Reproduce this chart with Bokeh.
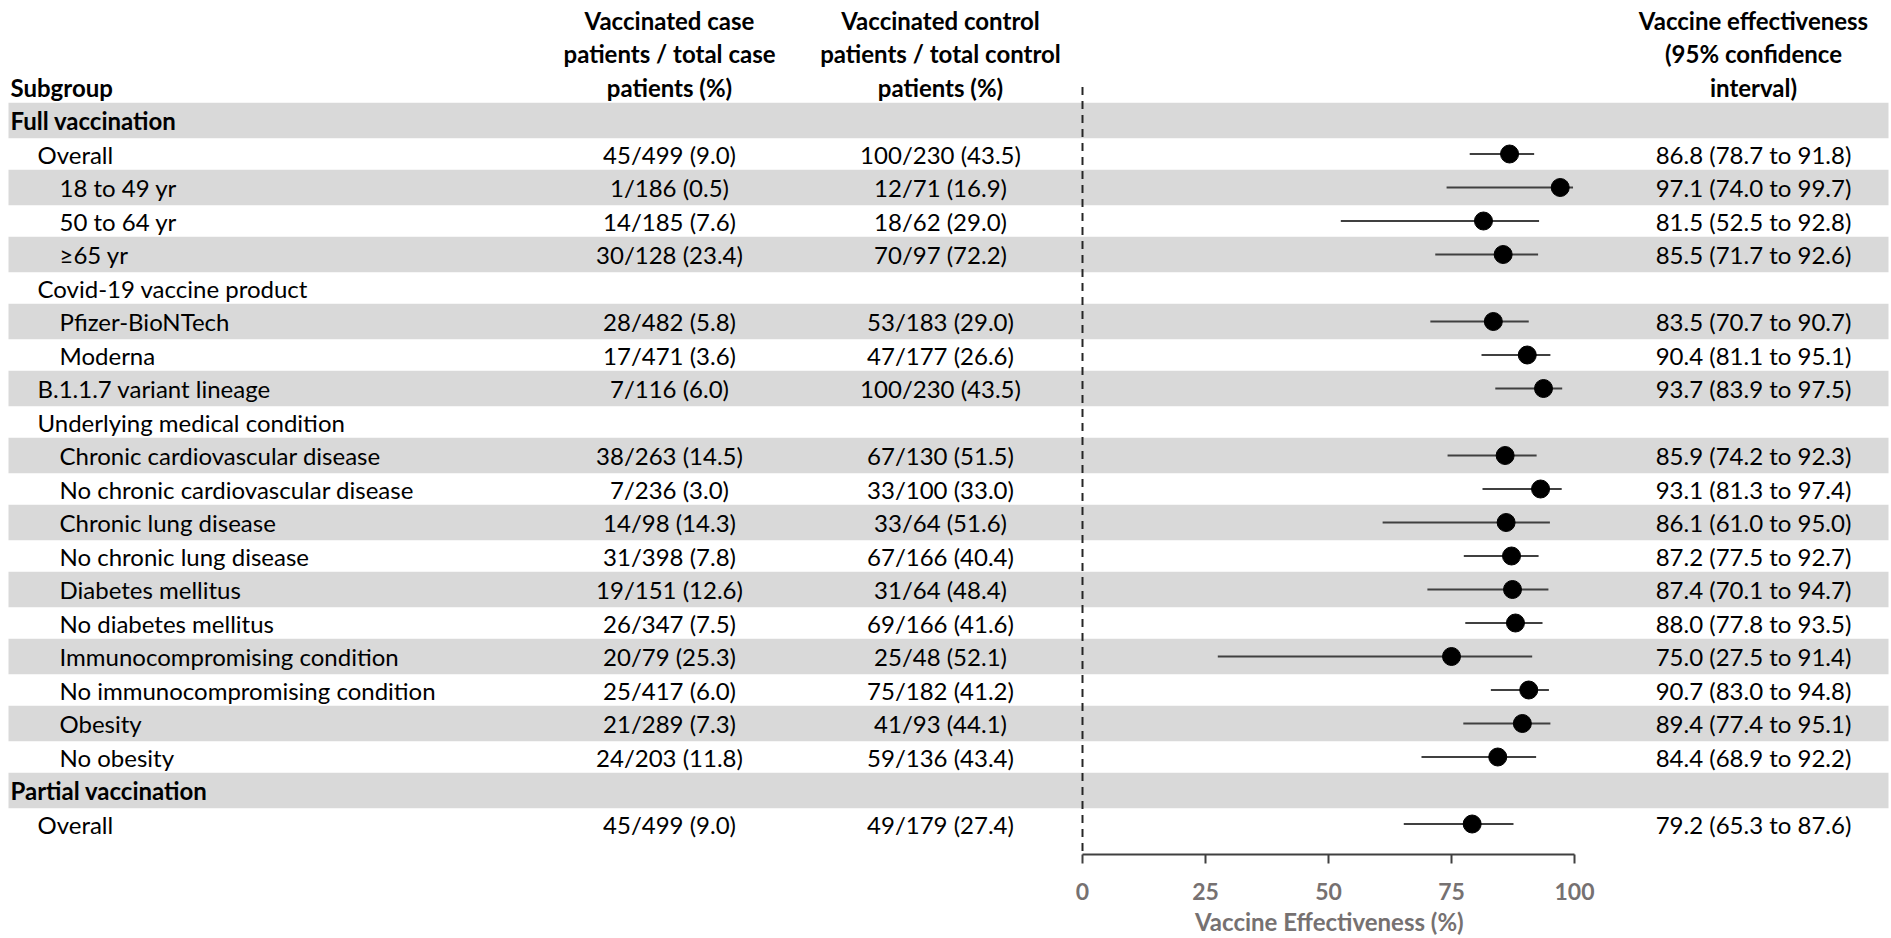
from bokeh.plotting import figure
from bokeh.models import Range1d, LinearAxis, FixedTicker, ColumnDataSource, Title
from bokeh.embed import file_html
from bokeh.resources import INLINE
from bokeh.core.properties import value

# ---------------- data ----------------
subgroups = [
    "Full vaccination", "Overall", "18 to 49 yr", "50 to 64 yr", "\u226565 yr",
    "Covid-19 vaccine product", "Pfizer-BioNTech", "Moderna", "B.1.1.7 variant lineage",
    "Underlying medical condition", "Chronic cardiovascular disease",
    "No chronic cardiovascular disease", "Chronic lung disease", "No chronic lung disease",
    "Diabetes mellitus", "No diabetes mellitus", "Immunocompromising condition",
    "No immunocompromising condition", "Obesity", "No obesity",
    "Partial vaccination", "Overall",
]
levels = [0, 1, 2, 2, 2, 1, 2, 2, 1, 1, 2, 2, 2, 2, 2, 2, 2, 2, 2, 2, 0, 1]
case_vals = [
    "", "45/499 (9.0)", "1/186 (0.5)", "14/185 (7.6)", "30/128 (23.4)",
    "", "28/482 (5.8)", "17/471 (3.6)", "7/116 (6.0)",
    "", "38/263 (14.5)", "7/236 (3.0)", "14/98 (14.3)", "31/398 (7.8)",
    "19/151 (12.6)", "26/347 (7.5)", "20/79 (25.3)", "25/417 (6.0)",
    "21/289 (7.3)", "24/203 (11.8)", "", "45/499 (9.0)",
]
control_vals = [
    "", "100/230 (43.5)", "12/71 (16.9)", "18/62 (29.0)", "70/97 (72.2)",
    "", "53/183 (29.0)", "47/177 (26.6)", "100/230 (43.5)",
    "", "67/130 (51.5)", "33/100 (33.0)", "33/64 (51.6)", "67/166 (40.4)",
    "31/64 (48.4)", "69/166 (41.6)", "25/48 (52.1)", "75/182 (41.2)",
    "41/93 (44.1)", "59/136 (43.4)", "", "49/179 (27.4)",
]
ve =    [None, 86.8, 97.1, 81.5, 85.5, None, 83.5, 90.4, 93.7, None, 85.9, 93.1, 86.1, 87.2, 87.4, 88.0, 75.0, 90.7, 89.4, 84.4, None, 79.2]
ve_lo = [None, 78.7, 74.0, 52.5, 71.7, None, 70.7, 81.1, 83.9, None, 74.2, 81.3, 61.0, 77.5, 70.1, 77.8, 27.5, 83.0, 77.4, 68.9, None, 65.3]
ve_hi = [None, 91.8, 99.7, 92.8, 92.6, None, 90.7, 95.1, 97.5, None, 92.3, 97.4, 95.0, 92.7, 94.7, 93.5, 91.4, 94.8, 95.1, 92.2, None, 87.6]

header_subgroup = "Subgroup"
header_case = ["Vaccinated case", "patients / total case", "patients (%)"]
header_control = ["Vaccinated control", "patients / total control", "patients (%)"]
header_ve = ["Vaccine effectiveness", "(95% confidence", "interval)"]
axis_ticks = [0, 25, 50, 75, 100]
axis_title = "Vaccine Effectiveness (%)"

# ---------------- layout constants (screen px) ----------------
W = 1889
TOP, BOTTOM = 0, 854
ROW0, PITCH = 120.0, 33.5
X0, PPU = 1082.0, 4.92
FONT = "Lato"
FS = "24px"
GRAY = "#d9d9d9"
AXIS_GRAY = "#767171"

def row_y(r):
    return -r

x_start = (0 - X0) / PPU
x_end = (W - X0) / PPU
y_top = -(TOP - ROW0) / PITCH
y_bot = -(BOTTOM - ROW0) / PITCH

p = figure(frame_width=W, frame_height=BOTTOM - TOP,
           x_range=Range1d(x_start, x_end), y_range=Range1d(y_bot, y_top),
           x_axis_location=None, y_axis_location=None,
           output_backend="svg", toolbar_location=None,
           min_border_left=0, min_border_right=0, min_border_top=0, min_border_bottom=0)
p.extra_x_ranges = {"scr": Range1d(0, W)}
p.outline_line_color = None
p.xgrid.visible = False
p.ygrid.visible = False
p.background_fill_color = "white"
p.border_fill_color = "white"

n = len(subgroups)
ys = [row_y(i) for i in range(n)]

# alternating gray bands
band_y = [ys[i] for i in range(n) if i % 2 == 0]
p.hbar(y=band_y, left=8, right=1888, height=35.5 / PITCH, color=GRAY,
       line_color=None, x_range_name="scr")

# dashed reference line at 0
p.segment(x0=[0], y0=[row_y(-1)], x1=[0], y1=[y_bot], line_dash="8 6",
          line_width=2, line_color="#262626")

# subgroup labels
indent = {0: 10, 1: 37, 2: 59}
bold_idx = [i for i in range(n) if levels[i] == 0]
norm_idx = [i for i in range(n) if levels[i] != 0]
p.text(x=[indent[levels[i]] for i in norm_idx], y=[ys[i] for i in norm_idx],
       text=[subgroups[i] for i in norm_idx], x_range_name="scr",
       text_font=value(FONT), text_font_size=value(FS), text_baseline="middle",
       text_align="left", text_color="black")
p.text(x=[indent[levels[i]] for i in bold_idx], y=[ys[i] for i in bold_idx],
       text=[subgroups[i] for i in bold_idx], x_range_name="scr",
       text_font=value(FONT), text_font_size=value(FS), text_font_style="bold",
       text_baseline="middle", text_align="left", text_color="black")

# case / control columns
p.text(x=[669] * n, y=ys, text=case_vals, x_range_name="scr",
       text_font=value(FONT), text_font_size=value(FS), text_baseline="middle",
       text_align="center", text_color="black")
p.text(x=[940] * n, y=ys, text=control_vals, x_range_name="scr",
       text_font=value(FONT), text_font_size=value(FS), text_baseline="middle",
       text_align="center", text_color="black")

# VE text column
ve_idx = [i for i in range(n) if ve[i] is not None]
ve_text = ["%.1f (%.1f to %.1f)" % (ve[i], ve_lo[i], ve_hi[i]) for i in ve_idx]
p.text(x=[1753] * len(ve_idx), y=[ys[i] for i in ve_idx], text=ve_text, x_range_name="scr",
       text_font=value(FONT), text_font_size=value(FS), text_baseline="middle",
       text_align="center", text_color="black")

# headers
p.text(x=[10], y=[row_y(-1)], text=[header_subgroup], x_range_name="scr",
       text_font=value(FONT), text_font_size=value(FS), text_font_style="bold",
       text_baseline="middle", text_align="left", text_color="black")
for cx, lines in ((669, header_case), (940, header_control), (1753, header_ve)):
    p.text(x=[cx] * 3, y=[row_y(-3), row_y(-2), row_y(-1)], text=lines, x_range_name="scr",
           text_font=value(FONT), text_font_size=value(FS), text_font_style="bold",
           text_baseline="middle", text_align="center", text_color="black")

# forest: CI lines and points
src = ColumnDataSource(dict(y=[ys[i] for i in ve_idx], ve=[ve[i] for i in ve_idx],
                            lo=[ve_lo[i] for i in ve_idx], hi=[ve_hi[i] for i in ve_idx]))
p.segment(x0="lo", x1="hi", y0="y", y1="y", source=src, line_width=2, line_color="#404040")
p.scatter(x="ve", y="y", source=src, size=18, marker="circle", fill_color="black",
          line_color="black")

# axis limited to 0..100
ax = LinearAxis(ticker=FixedTicker(ticks=axis_ticks), bounds=(0, 100))
ax.axis_line_width = 2
ax.axis_line_color = "#404040"
ax.major_tick_line_width = 2
ax.major_tick_line_color = "#404040"
ax.major_tick_out = 9
ax.major_tick_in = 0
ax.minor_tick_out = 0
ax.minor_tick_in = 0
ax.major_label_standoff = 19
ax.major_label_text_font = FONT
ax.major_label_text_font_style = "bold"
ax.major_label_text_font_size = "23px"
ax.major_label_text_color = AXIS_GRAY
p.add_layout(ax, "below")

# axis title, centred under the 0..100 span
title_w = 267
p.add_layout(Title(text=axis_title, align="left", offset=X0 + 50 * PPU - title_w / 2,
                   text_font=FONT, text_font_style="bold", text_font_size="24px",
                   text_color=AXIS_GRAY, standoff=4), "below")

open("out.html", "w").write(file_html(p, INLINE))
